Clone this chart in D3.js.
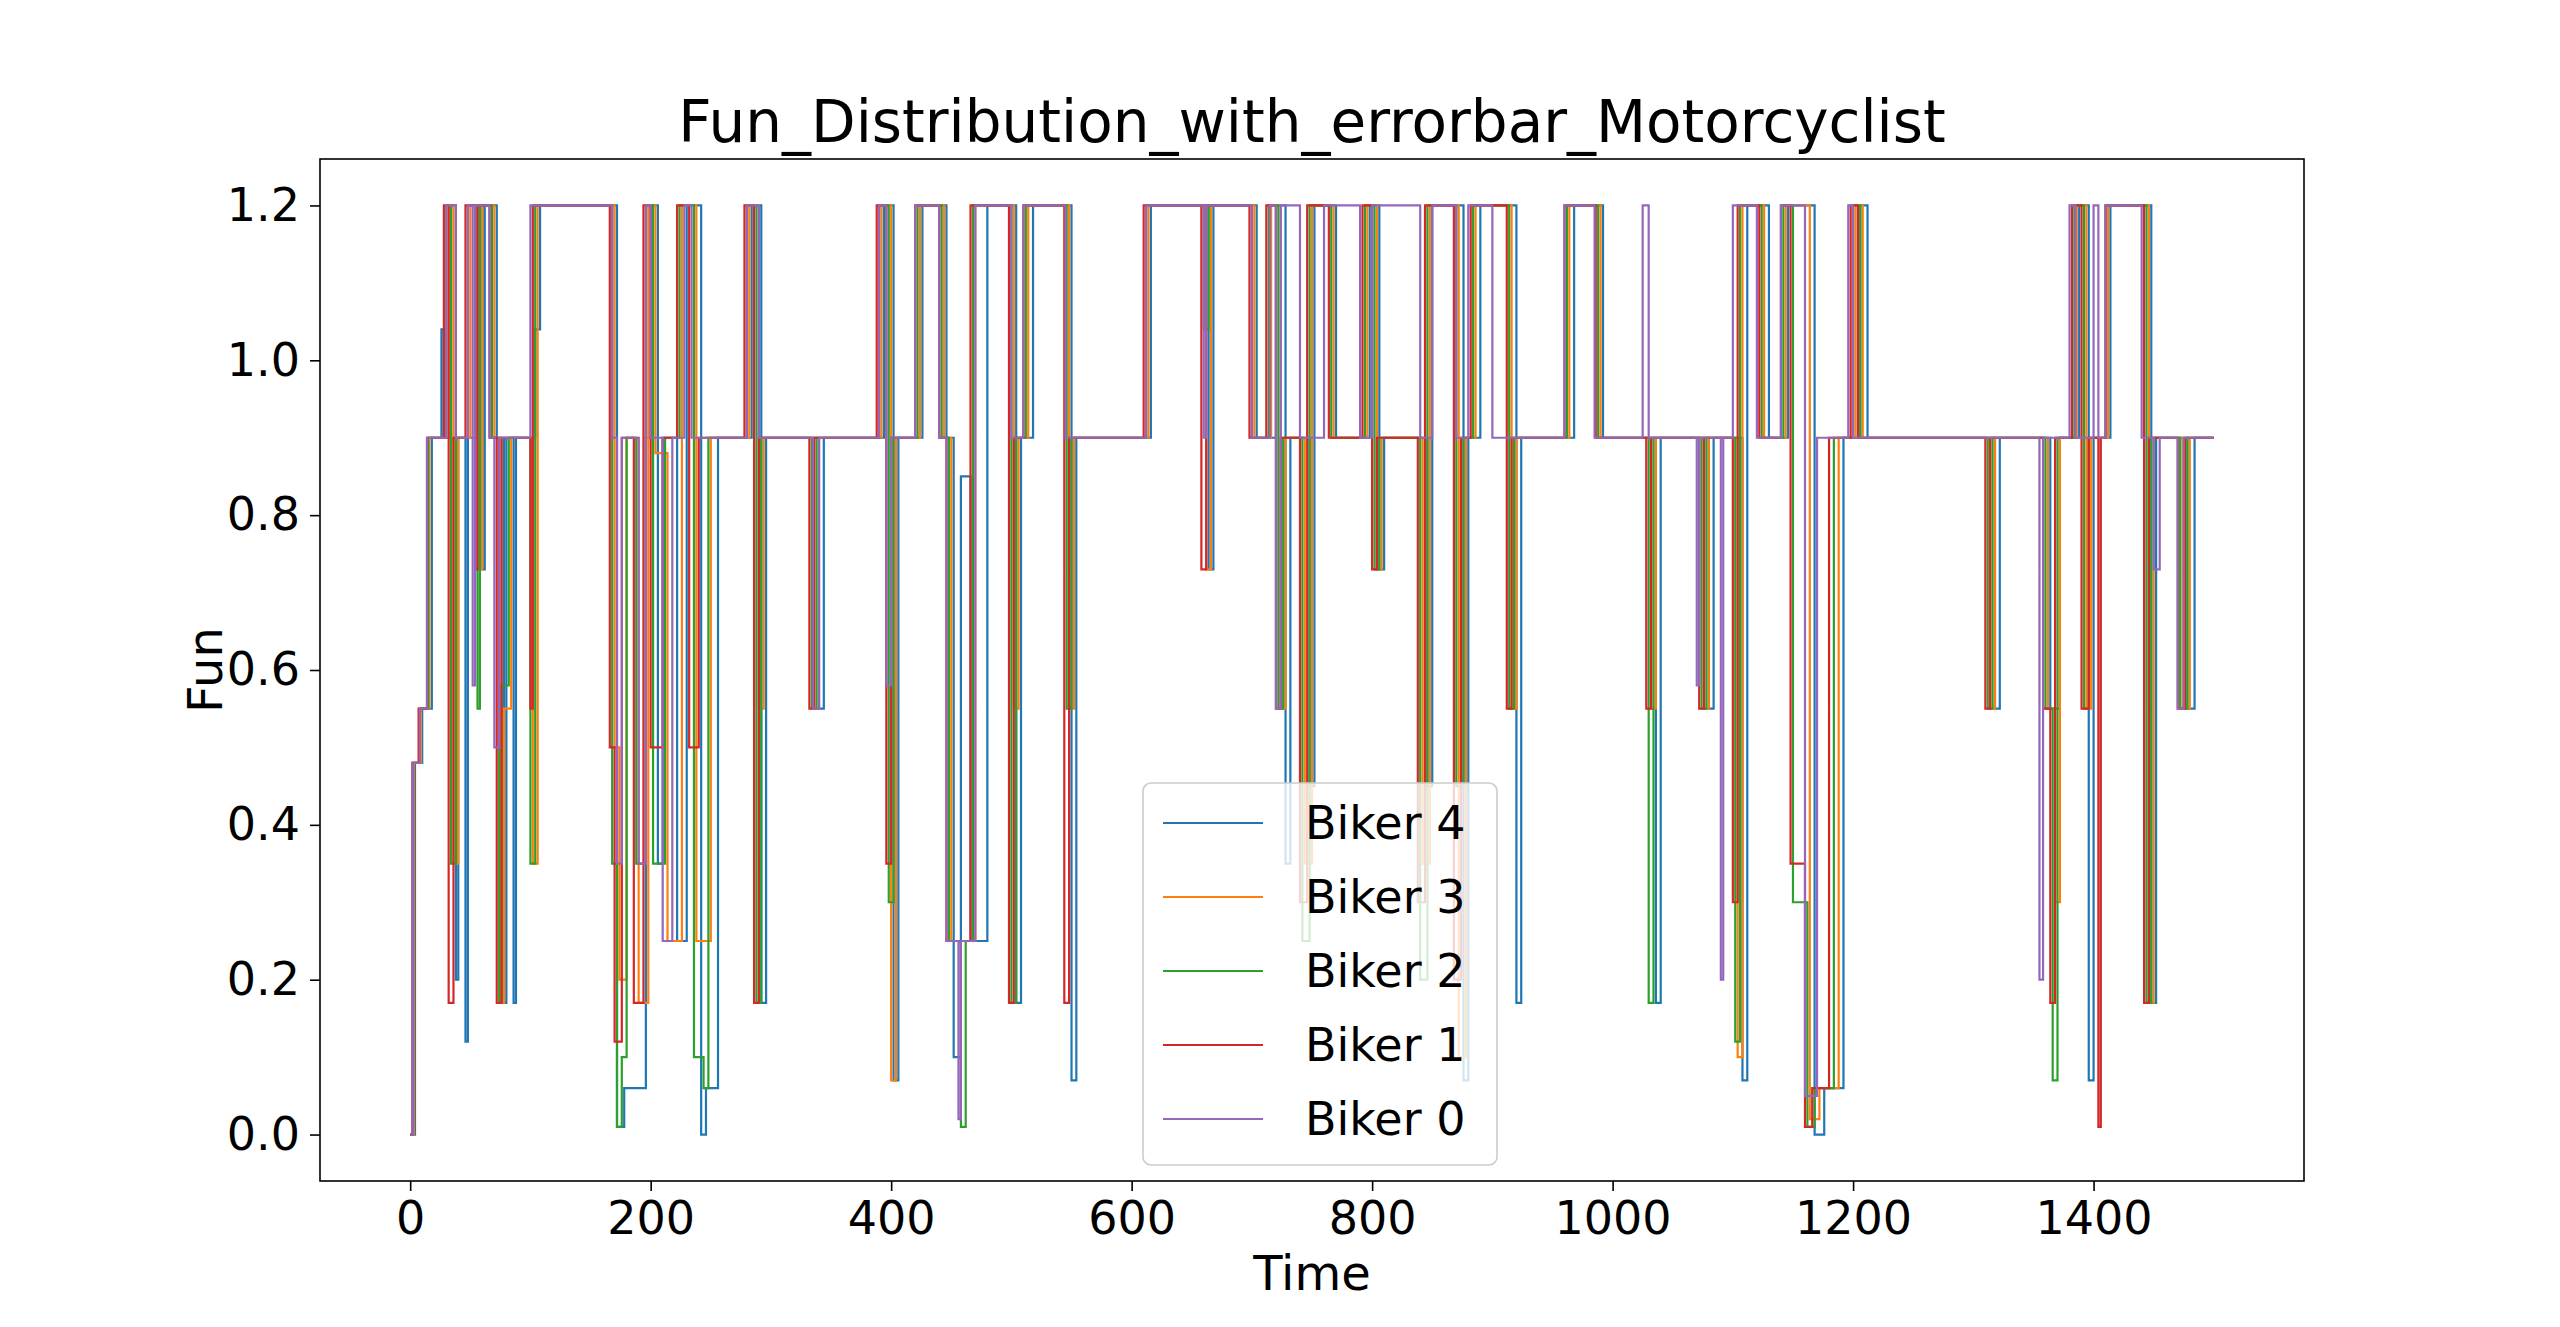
<!DOCTYPE html>
<html>
<head>
<meta charset="utf-8">
<script src="https://cdn.jsdelivr.net/npm/d3@7"></script>
<style>
  body { margin: 0; background: #fff; }
  text { font-family: "DejaVu Sans", sans-serif; }
</style>
</head>
<body>
<svg id="chart" width="2560" height="1327"></svg>
<script>
// change points [time, fun] for each biker (step curves)
var biker4 = [[0,0],[4,0.48],[10,0.55],[18,0.9],[26,1.04],[28,0.9],[34,1.2],[38,0.2],[40,0.9],[46,0.12],[48,0.9],[54,1.2],[60,0.73],[62,1.2],[72,0.9],[78,0.17],[80,0.9],[86,0.17],[88,0.9],[104,1.04],[108,1.2],[172,0.01],[178,0.06],[196,0.9],[200,1.2],[206,0.35],[210,0.9],[222,0.25],[230,1.2],[242,0.0],[246,0.06],[256,0.9],[284,1.2],[292,0.17],[296,0.9],[340,0.55],[344,0.9],[394,1.2],[402,0.07],[406,0.9],[426,1.2],[446,0.9],[452,0.1],[458,0.85],[466,0.25],[480,1.2],[504,0.17],[508,0.9],[518,1.2],[550,0.07],[554,0.9],[616,1.2],[664,0.73],[668,1.2],[704,0.9],[720,1.2],[728,0.35],[732,0.9],[748,0.45],[752,1.2],[770,0.9],[798,1.2],[806,0.73],[810,0.9],[846,0.45],[850,1.2],[876,0.07],[880,0.9],[890,1.2],[920,0.17],[924,0.9],[968,1.2],[992,0.9],[1036,0.17],[1040,0.9],[1080,0.55],[1084,0.9],[1108,0.07],[1112,1.2],[1130,0.9],[1146,1.2],[1168,0.0],[1176,0.06],[1192,0.9],[1206,1.2],[1212,0.9],[1318,0.55],[1322,0.9],[1364,0.55],[1372,0.9],[1388,1.2],[1396,0.07],[1400,0.9],[1414,1.2],[1448,0.17],[1452,0.9],[1478,0.55],[1484,0.9],[1500,0.9]];
var biker3 = [[0,0],[3,0.48],[9,0.55],[16,0.9],[32,1.2],[36,0.35],[40,0.9],[50,1.2],[58,0.73],[60,1.2],[70,0.9],[76,0.17],[78,0.55],[84,0.9],[102,0.35],[106,1.2],[170,0.5],[174,0.2],[180,0.9],[190,0.17],[198,1.2],[204,0.88],[214,0.25],[226,1.2],[238,0.25],[250,0.9],[282,1.2],[290,0.55],[294,0.9],[336,0.55],[340,0.9],[392,1.2],[400,0.07],[404,0.9],[424,1.2],[444,0.9],[450,0.25],[470,1.2],[502,0.55],[506,0.9],[514,1.2],[548,0.55],[552,0.9],[614,1.2],[662,0.73],[666,1.2],[702,0.9],[716,1.2],[724,0.55],[728,0.9],[744,0.35],[750,1.2],[768,0.9],[796,1.2],[804,0.73],[808,0.9],[842,0.35],[848,1.2],[872,0.1],[878,0.9],[886,1.2],[916,0.55],[920,0.9],[964,1.2],[990,0.9],[1032,0.55],[1036,0.9],[1076,0.55],[1080,0.9],[1104,0.1],[1108,1.2],[1126,0.9],[1144,1.2],[1164,0.02],[1172,0.06],[1188,0.9],[1202,1.2],[1208,0.9],[1314,0.55],[1318,0.9],[1362,0.55],[1368,0.3],[1372,0.9],[1386,1.2],[1394,0.55],[1398,0.9],[1412,1.2],[1446,0.17],[1450,0.9],[1474,0.55],[1480,0.9],[1500,0.9]];
var biker2 = [[0,0],[2,0.48],[8,0.55],[15,0.9],[30,1.2],[34,0.35],[38,0.9],[48,1.2],[56,0.55],[58,1.2],[68,0.9],[74,0.17],[76,0.58],[82,0.9],[100,0.35],[104,1.2],[168,0.35],[172,0.01],[176,0.1],[180,0.9],[188,0.35],[196,1.2],[202,0.35],[212,0.9],[224,1.2],[236,0.1],[244,0.06],[248,0.9],[280,1.2],[288,0.17],[292,0.9],[334,0.55],[338,0.9],[390,1.2],[398,0.3],[402,0.9],[422,1.2],[442,0.9],[448,0.25],[458,0.01],[462,0.25],[468,1.2],[500,0.17],[504,0.9],[512,1.2],[546,0.55],[550,0.9],[612,1.2],[660,1.04],[664,1.2],[700,0.9],[714,1.2],[722,0.55],[726,0.9],[742,0.25],[748,1.2],[766,0.9],[794,1.2],[802,0.73],[806,0.9],[840,0.2],[846,1.2],[870,0.45],[876,0.9],[884,1.2],[914,0.55],[918,0.9],[962,1.2],[988,0.9],[1030,0.17],[1034,0.9],[1074,0.55],[1078,0.9],[1102,0.12],[1106,1.2],[1124,0.9],[1142,1.2],[1150,0.3],[1162,0.01],[1168,0.06],[1184,0.9],[1200,1.2],[1206,0.9],[1312,0.55],[1316,0.9],[1360,0.55],[1366,0.07],[1370,0.9],[1384,1.2],[1392,0.55],[1396,0.9],[1410,1.2],[1444,0.17],[1448,0.9],[1472,0.55],[1478,0.9],[1500,0.9]];
var biker1 = [[0,0],[2,0.48],[7,0.55],[14,0.9],[28,1.2],[32,0.17],[36,0.9],[46,1.2],[54,0.73],[56,1.2],[66,0.9],[72,0.17],[76,0.9],[100,0.55],[102,1.2],[166,0.5],[170,0.12],[176,0.9],[186,0.17],[194,1.2],[200,0.5],[210,0.9],[222,1.2],[232,0.5],[240,0.9],[278,1.2],[286,0.17],[290,0.9],[332,0.55],[336,0.9],[388,1.2],[396,0.35],[400,0.9],[420,1.2],[440,0.9],[446,0.25],[456,0.25],[466,1.2],[498,0.17],[502,0.9],[510,1.2],[544,0.17],[548,0.9],[610,1.2],[658,0.73],[662,1.2],[698,0.9],[712,1.2],[720,0.55],[724,0.9],[740,0.3],[746,1.2],[764,0.9],[792,1.2],[800,0.73],[804,0.9],[838,0.3],[844,1.2],[868,0.2],[874,0.9],[882,1.2],[912,0.55],[916,0.9],[960,1.2],[986,0.9],[1028,0.55],[1032,0.9],[1072,0.55],[1076,0.9],[1100,0.3],[1104,1.2],[1122,0.9],[1140,1.2],[1148,0.35],[1160,0.01],[1166,0.06],[1180,0.9],[1198,1.2],[1204,0.9],[1310,0.55],[1314,0.9],[1358,0.55],[1364,0.17],[1368,0.9],[1382,1.2],[1390,0.55],[1396,0.9],[1404,0.01],[1406,0.9],[1410,1.2],[1442,0.17],[1446,0.9],[1470,0.55],[1476,0.9],[1500,0.9]];
var biker0 = [[0,0],[2,0.48],[8,0.55],[14,0.9],[30,1.2],[38,0.9],[48,1.2],[52,0.58],[54,1.2],[66,0.9],[70,0.5],[74,0.9],[100,1.2],[168,0.9],[172,0.35],[176,0.9],[190,0.35],[196,1.2],[200,0.9],[210,0.25],[218,0.9],[228,1.2],[234,0.9],[280,1.2],[290,0.9],[335,0.55],[340,0.9],[390,1.2],[396,0.58],[400,0.9],[420,1.2],[440,0.9],[446,0.25],[456,0.02],[458,0.25],[470,1.2],[500,0.9],[510,1.2],[545,0.9],[612,1.2],[660,0.9],[662,1.2],[700,0.9],[715,1.2],[720,0.55],[724,1.2],[740,0.9],[760,1.2],[790,0.9],[800,1.2],[840,0.9],[850,1.2],[870,0.9],[880,1.2],[900,0.9],[960,1.2],[985,0.9],[1025,1.2],[1030,0.9],[1070,0.58],[1072,0.9],[1090,0.2],[1092,0.9],[1100,1.2],[1120,0.9],[1140,1.2],[1160,0.05],[1170,0.9],[1196,1.2],[1200,0.9],[1355,0.2],[1358,0.9],[1380,1.2],[1385,0.9],[1400,1.2],[1404,0.9],[1410,1.2],[1440,0.9],[1450,0.73],[1455,0.9],[1470,0.55],[1475,0.9],[1500,0.9]];

var names = ["Biker 4", "Biker 3", "Biker 2", "Biker 1", "Biker 0"];
var colors = ["#1f77b4", "#ff7f0e", "#2ca02c", "#d62728", "#9467bd"];
var series = [biker4, biker3, biker2, biker1, biker0];
var xTicks = [0, 200, 400, 600, 800, 1000, 1200, 1400];
var yTicks = [0.0, 0.2, 0.4, 0.6, 0.8, 1.0, 1.2];

var svg = d3.select("#chart");
// plot box (window.top is read-only, so other names)
var mLeft = 320, mRight = 2304, mTop = 159, mBottom = 1181;

var x = d3.scaleLinear().domain([-75, 1575]).range([mLeft, mRight]);
var y = d3.scaleLinear().domain([-0.06, 1.26]).range([mBottom, mTop]);

// lines
var line = d3.line().curve(d3.curveStepAfter).x(d => x(d[0])).y(d => y(d[1]));
series.forEach((s, i) => {
    svg.append("path").datum(s)
        .attr("d", line)
        .attr("fill", "none")
        .attr("stroke", colors[i])
        .attr("stroke-width", 2.2);
});

// axes
var xAxis = svg.append("g").attr("transform", `translate(0,${mBottom})`)
    .call(d3.axisBottom(x).tickValues(xTicks).tickSize(10).tickPadding(10).tickFormat(d3.format("d")));
var yAxis = svg.append("g").attr("transform", `translate(${mLeft},0)`)
    .call(d3.axisLeft(y).tickValues(yTicks).tickSize(10).tickPadding(10).tickFormat(d3.format(".1f")));
[xAxis, yAxis].forEach(a => {
    a.select(".domain").remove();
    a.selectAll("text").attr("font-size", 46).attr("fill", "#000");
    a.selectAll("line").attr("stroke", "#000").attr("stroke-width", 1.6);
});

svg.append("rect").attr("x", mLeft).attr("y", mTop)
    .attr("width", mRight - mLeft).attr("height", mBottom - mTop)
    .attr("fill", "none").attr("stroke", "#000").attr("stroke-width", 1.6);

// labels
svg.append("text").attr("x", (mLeft + mRight) / 2).attr("y", 142)
    .attr("text-anchor", "middle").attr("font-size", 58)
    .text("Fun_Distribution_with_errorbar_Motorcyclist");
svg.append("text").attr("x", (mLeft + mRight) / 2).attr("y", 1290)
    .attr("text-anchor", "middle").attr("font-size", 48).text("Time");
svg.append("text").attr("transform", `translate(222,${(mTop + mBottom) / 2}) rotate(-90)`)
    .attr("text-anchor", "middle").attr("font-size", 48).text("Fun");

// legend
var lg = svg.append("g").attr("transform", "translate(1143,783)");
lg.append("rect").attr("width", 354).attr("height", 382).attr("rx", 8)
    .attr("fill", "#fff").attr("fill-opacity", 0.8).attr("stroke", "#ccc").attr("stroke-width", 1.6);
names.forEach((n, i) => {
    var yy = 40 + i * 74;
    lg.append("line").attr("x1", 20).attr("x2", 120).attr("y1", yy).attr("y2", yy)
        .attr("stroke", colors[i]).attr("stroke-width", 2.2);
    lg.append("text").attr("x", 162).attr("y", yy + 16).attr("font-size", 46).text(n);
});
</script>
</body>
</html>
